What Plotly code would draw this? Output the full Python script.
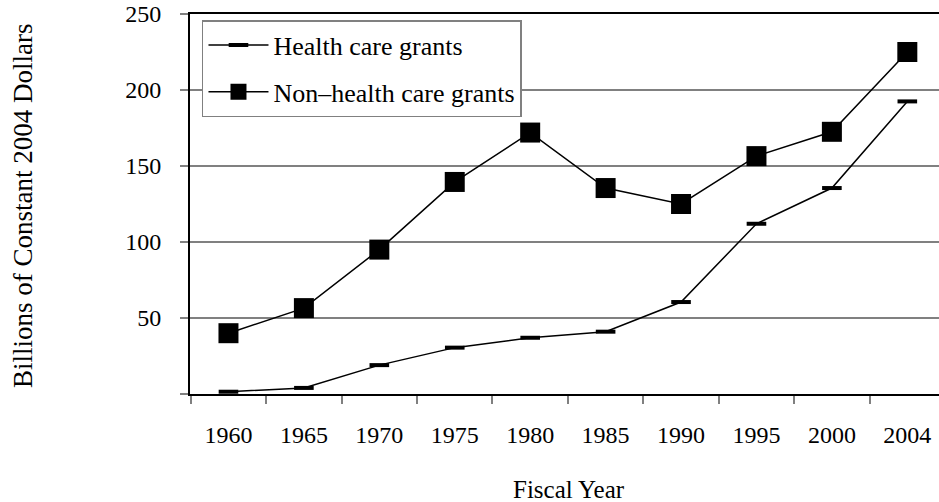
import plotly.graph_objects as go

years = ["1960", "1965", "1970", "1975", "1980", "1985", "1990", "1995", "2000", "2004"]
health = [1.5, 4, 19, 30.5, 37, 41, 60.5, 112, 135.5, 192.5]
non_health = [40, 56.5, 95, 139.5, 172, 135.5, 125, 156.5, 172.5, 225]
y_ticks = [0, 50, 100, 150, 200, 250]
y_ticktext = ["", "50", "100", "150", "200", "250"]

FONT = "Liberation Serif"

fig = go.Figure()
fig.add_trace(go.Scatter(
    x=years, y=health, name="Health care grants", mode="lines+markers",
    legendgroup="a",
    line=dict(color="black", width=1.5),
    marker=dict(symbol="line-ew", size=14, color="black", line=dict(color="black", width=4)),
))
fig.add_trace(go.Scatter(
    x=years, y=non_health, name="Non\u2013health care grants", mode="lines+markers",
    legendgroup="b",
    line=dict(color="black", width=1.5),
    marker=dict(symbol="square", size=20, color="black"),
))

fig.update_layout(
    width=939, height=502,
    margin=dict(l=190, r=0, t=14, b=108),
    plot_bgcolor="white", paper_bgcolor="white",
    font=dict(family=FONT, size=24, color="black"),
    showlegend=True,
    legend=dict(
        x=0.016, y=0.984, xanchor="left", yanchor="top",
        bgcolor="white", bordercolor="#808080", borderwidth=1.5,
        font=dict(family=FONT, size=26, color="black"),
        itemwidth=60, tracegroupgap=10,
    ),
    xaxis=dict(
        type="category", range=[-0.51, 9.42],
        showline=True, linecolor="black", linewidth=2, mirror=True,
        showgrid=False, zeroline=False,
        ticks="outside", tickson="boundaries", ticklen=8, tickcolor="#808080", tickwidth=2,
        ticklabelstandoff=18, ticklabeloverflow="allow",
        tickfont=dict(family=FONT, size=24),
    ),
    yaxis=dict(
        range=[0, 250], tickvals=y_ticks, ticktext=y_ticktext,
        showline=True, linecolor="black", linewidth=2,
        showgrid=True, gridcolor="#808080", gridwidth=2, zeroline=False,
        ticks="outside", ticklen=8, tickcolor="#808080", tickwidth=2,
        ticklabelstandoff=14, ticklabeloverflow="allow",
        tickfont=dict(family=FONT, size=24),
    ),
    annotations=[
        dict(text="Billions of Constant 2004 Dollars", xref="paper", yref="paper",
             x=-0.223, y=0.497, xanchor="center", yanchor="middle", textangle=-90,
             showarrow=False, font=dict(family=FONT, size=27)),
        dict(text="Fiscal Year", xref="paper", yref="paper",
             x=0.506, y=-0.25, xanchor="center", yanchor="middle",
             showarrow=False, font=dict(family=FONT, size=25)),
    ],
)

fig.write_html(
    "out.html",
    config={"displayModeBar": False},
    post_script="document.body.style.margin='0';document.body.style.overflow='hidden';",
)
